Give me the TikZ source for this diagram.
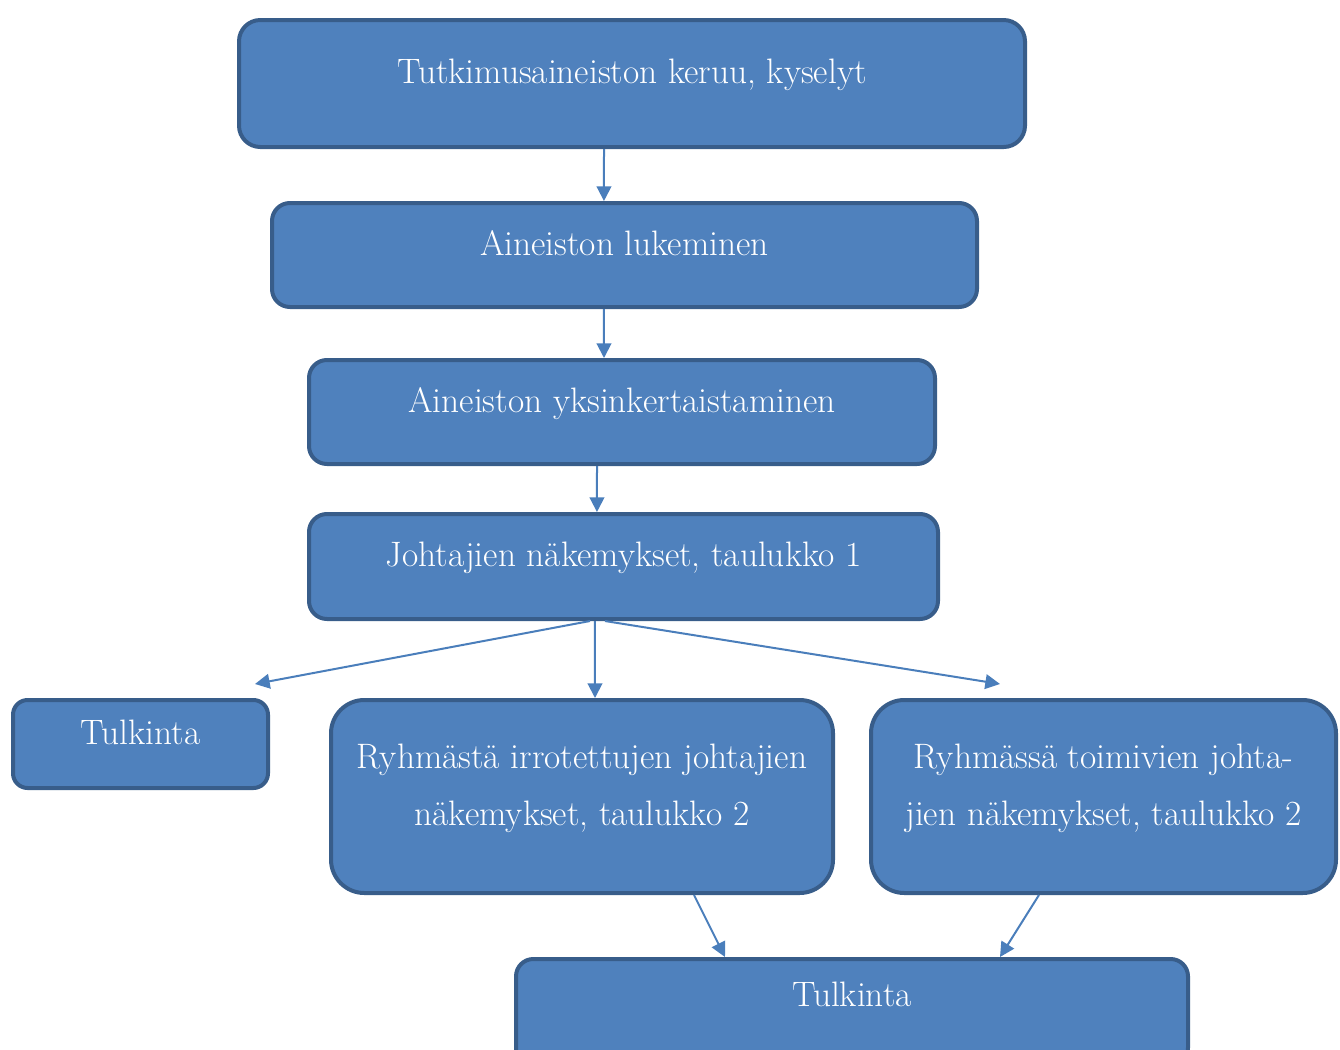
\documentclass[tikz,border=0pt]{standalone}
\usepackage{tikz}
\usetikzlibrary{positioning}
\usetikzlibrary{arrows.meta}
\definecolor{laatikko}{HTML}{4F81BD}
\definecolor{reuna}{HTML}{385D8A}
\definecolor{nuolivari}{HTML}{4A7EBB}

\tikzset{
  vaihe/.style={draw=reuna, fill=laatikko, line width=3pt, text=white, anchor=north west,
    inner sep=0pt, align=center, font=\fontsize{26.5}{42.75}\selectfont,
    text height=0pt, text depth=0pt},
  kaksirivi/.style={text height=42.75pt, text depth=0pt},
  nuoli/.style={draw=nuolivari, line width=1.5pt, -{Triangle[width=11pt,length=11pt]}}
}

\begin{document}
\begin{tikzpicture}[x=0.75pt,y=0.75pt,yscale=-1,xscale=1]
\useasboundingbox (0,0) rectangle (1340,1050);

%Shape: Rounded Rect [id:keruu]
\node [vaihe, minimum width=589.5pt, minimum height=95.25pt, rounded corners=16pt] (keruu) at (237,18) {Tutkimusaineiston keruu, kyselyt};
%Shape: Rounded Rect [id:lukeminen]
\node [vaihe, minimum width=528.75pt, minimum height=78pt, rounded corners=13.5pt] (lukeminen) at (270,201) {Aineiston lukeminen};
%Shape: Rounded Rect [id:yksinkert]
\node [vaihe, minimum width=469.5pt, minimum height=78pt, rounded corners=13.5pt] (yksinkert) at (307,358) {Aineiston yksinkertaistaminen};
%Shape: Rounded Rect [id:nakemykset]
\node [vaihe, minimum width=471.75pt, minimum height=78.75pt, rounded corners=13.5pt] (nakemykset) at (307,512) {Johtajien näkemykset, taulukko 1};
%Shape: Rounded Rect [id:tulkinta1]
\node [vaihe, minimum width=191.25pt, minimum height=66pt, rounded corners=11pt] (tulkinta1) at (11,698) {Tulkinta};
%Shape: Rounded Rect [id:irrotetut]
\node [vaihe, kaksirivi, minimum width=376.5pt, minimum height=144.75pt, rounded corners=25pt] (irrotetut) at (329,698) {Ryhmästä irrotettujen johtajien\\näkemykset, taulukko 2};
%Shape: Rounded Rect [id:toimivat]
\node [vaihe, kaksirivi, minimum width=348.75pt, minimum height=144.75pt, rounded corners=25pt] (toimivat) at (869,698) {Ryhmässä toimivien johta-\\jien näkemykset, taulukko 2};
%Shape: Rounded Rect [id:tulkinta2]
\node [vaihe, text depth=9pt, minimum width=504pt, minimum height=79.5pt, rounded corners=13pt] (tulkinta2) at (514,957) {Tulkinta};

\coordinate (vasen) at (255,684);
\coordinate (oikea) at (1000,684);

% Arrows
\draw [nuoli] ([xshift=-21pt]keruu.south) -- ([xshift=-15.4pt]lukeminen.north);
\draw [nuoli] ([xshift=-15.4pt]lukeminen.south) -- ([xshift=-13.5pt]yksinkert.north);
\draw [nuoli] ([xshift=-18.75pt]yksinkert.south) -- ([xshift=-19.9pt]nakemykset.north);
\draw [nuoli] ([xshift=-25.1pt]nakemykset.south) -- (vasen);
\draw [nuoli] ([xshift=-21.4pt]nakemykset.south) -- ([xshift=9.75pt]irrotetut.north);
\draw [nuoli] ([xshift=-13.9pt]nakemykset.south) -- (oikea);
\draw [nuoli] ([xshift=84pt]irrotetut.south) -- ([xshift=-95.25pt]tulkinta2.north);
\draw [nuoli] ([xshift=-48.4pt]toimivat.south) -- ([xshift=111pt]tulkinta2.north);

\end{tikzpicture}
\end{document}
